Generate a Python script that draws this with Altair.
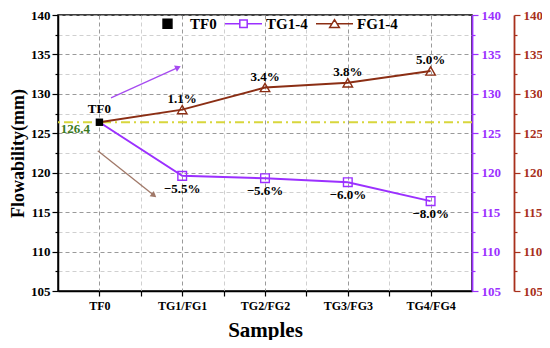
import altair as alt
import pandas as pd

# ---------------- data ----------------
samples = ["TF0", "TG1/FG1", "TG2/FG2", "TG3/FG3", "TG4/FG4"]
sample_index = [0, 1, 2, 3, 4]
tg_values = [126.4, 119.6, 119.3, 118.8, 116.4]
fg_values = [126.4, 128.0, 130.8, 131.4, 132.9]
tg_labels = ["", "−5.5%", "−5.6%", "−6.0%", "−8.0%"]
fg_labels = ["", "1.1%", "3.4%", "3.8%", "5.0%"]
tf0_value = 126.4
tf0_name = "TF0"
tf0_text = "126.4"
legend_names = ["TF0", "TG1-4", "FG1-4"]
y_ticks = [105, 107.5, 110, 112.5, 115, 117.5, 120, 122.5, 125, 127.5,
           130, 132.5, 135, 137.5, 140]
x_ticks = [0, 0.5, 1, 1.5, 2, 2.5, 3, 3.5, 4]
# annotation arrows (data units)
arrow_x = [0.14, -0.02]
arrow_y = [129.5, 122.8]
arrow_x2 = [0.94, 0.65]
arrow_y2 = [133.3, 117.2]
arrow_angle = [65, 129]
arrow_color = ["#A64BF0", "#A07868"]

# ---------------- styles ----------------
SERIF = "Liberation Serif"
PURPLE = "#9B30FF"
BROWN = "#8B2E14"
BROWN_AX = "#A8301C"
YELLOW = "#D8D63C"
GREEN = "#3A7A1E"

xscale = alt.Scale(domain=[-0.5, 4.5], nice=False, zero=False)
yscale = alt.Scale(domain=[105, 140], nice=False, zero=False)

major5 = "datum.value % 5 === 0"
major1 = "datum.value % 1 === 0"

x_label_expr = ("datum.value % 1 === 0 ? ["
                + ",".join("'" + s + "'" for s in samples)
                + "][datum.value] : ''")

x_axis = alt.Axis(
    values=x_ticks, title="Samples", titleFont=SERIF, titleFontSize=21,
    titleFontWeight="bold", titleColor="black", titlePadding=8,
    labelFont=SERIF, labelFontSize=12, labelFontWeight="bold", labelColor="black",
    labelExpr=x_label_expr, labelAngle=0, labelOverlap=False, labelPadding=4,
    tickColor="black", tickSize=5, tickWidth=1.2,
    domainColor="black", domainWidth=1.5,
    grid=True,
    gridColor={"condition": {"test": major1, "value": "#9a9a9a"}, "value": "#d0d0d0"},
    gridDash=[4, 3], gridWidth=1,
)

y_axis = alt.Axis(
    values=y_ticks, title="Flowability(mm)", titleFont=SERIF, titleFontSize=18,
    titleFontWeight="bold", titleColor="black", titlePadding=3,
    labelFont=SERIF, labelFontSize=13, labelFontWeight="bold", labelColor="black",
    labelExpr="datum.value % 5 === 0 ? datum.label : ''", labelOverlap=False,
    labelPadding=2, labelFlush=False,
    tickColor="black", tickWidth=1.2,
    tickSize={"condition": {"test": major5, "value": 6}, "value": 3},
    domainColor="black", domainWidth=1.5,
    grid=True,
    gridColor={"condition": {"test": major5, "value": "#9a9a9a"}, "value": "#d0d0d0"},
    gridDash=[4, 3], gridWidth=1,
)


def side_axis(color, offset):
    return alt.Axis(
        orient="right", offset=offset, values=y_ticks, title=None,
        labelFont=SERIF, labelFontSize=13, labelFontWeight="bold", labelColor=color,
        labelExpr="datum.value % 5 === 0 ? datum.label : ''", labelOverlap=False,
        labelPadding=3, labelFlush=False,
        tickColor=color, tickWidth=1.2,
        tickSize={"condition": {"test": major5, "value": 6}, "value": 3},
        domainColor=color, domainWidth=1.8, grid=False,
    )


def X(field):
    return alt.X(field, scale=xscale, axis=x_axis)


def Y(field):
    return alt.Y(field, scale=yscale, axis=y_axis)


df_tg = pd.DataFrame({"idx": sample_index, "value": tg_values, "label": tg_labels})
df_fg = pd.DataFrame({"idx": sample_index, "value": fg_values, "label": fg_labels})
df_tf0 = pd.DataFrame({"idx": [0], "value": [tf0_value], "name": [tf0_name], "txt": [tf0_text]})
df_ref = pd.DataFrame({"v": [tf0_value]})
df_arrow = pd.DataFrame({"x": arrow_x, "y": arrow_y, "x2": arrow_x2, "y2": arrow_y2,
                         "a": arrow_angle, "c": arrow_color})
df_leg = pd.DataFrame({"series": legend_names, "idx": [0, 0, 0], "value": [tf0_value] * 3})

ref_rule = alt.Chart(df_ref).mark_rule(color=YELLOW, strokeWidth=2.2, strokeDash=[9, 4, 2, 4]).encode(
    y=Y("v:Q")
)

tg_line = alt.Chart(df_tg).mark_line(color=PURPLE, strokeWidth=2).encode(x=X("idx:Q"), y=Y("value:Q"))
fg_line = alt.Chart(df_fg).mark_line(color=BROWN, strokeWidth=2).encode(x=X("idx:Q"), y=Y("value:Q"))

tg_pts = alt.Chart(df_tg).transform_filter("datum.idx > 0").mark_point(
    shape="square", size=75, filled=False, color=PURPLE, strokeWidth=1.4, opacity=1
).encode(x=X("idx:Q"), y=Y("value:Q"))
fg_pts = alt.Chart(df_fg).transform_filter("datum.idx > 0").mark_point(
    shape="triangle-up", size=90, filled=False, color=BROWN, strokeWidth=1.4, opacity=1
).encode(x=X("idx:Q"), y=Y("value:Q"))

tg_txt = alt.Chart(df_tg).mark_text(font=SERIF, fontSize=13, fontWeight="bold", color="black", dy=13).encode(
    x=X("idx:Q"), y=Y("value:Q"), text="label:N")
fg_txt = alt.Chart(df_fg).mark_text(font=SERIF, fontSize=13, fontWeight="bold", color="black", dy=-11).encode(
    x=X("idx:Q"), y=Y("value:Q"), text="label:N")

tf0_pt = alt.Chart(df_tf0).mark_point(shape="square", size=55, filled=True, color="black", opacity=1).encode(
    x=X("idx:Q"), y=Y("value:Q"))
tf0_name_txt = alt.Chart(df_tf0).mark_text(font=SERIF, fontSize=13, fontWeight="bold", color="black", dy=-13).encode(
    x=X("idx:Q"), y=Y("value:Q"), text="name:N")
tf0_val_txt = alt.Chart(df_tf0).mark_text(font=SERIF, fontSize=13, fontWeight="bold", color=GREEN, dx=-24, dy=7).encode(
    x=X("idx:Q"), y=Y("value:Q"), text="txt:N")

arrow_line = alt.Chart(df_arrow).mark_rule(strokeWidth=1.3).encode(
    x=X("x:Q"), y=Y("y:Q"), x2="x2:Q", y2="y2:Q", color=alt.Color("c:N", scale=None))
arrow_head = alt.Chart(df_arrow).mark_point(shape="triangle", filled=True, size=45, opacity=1).encode(
    x=X("x2:Q"), y=Y("y2:Q"), angle=alt.Angle("a:Q", scale=None), color=alt.Color("c:N", scale=None))

# legend (custom line+marker symbols)
leg_paths = [
    "M-0.24,-0.24H0.24V0.24H-0.24Z",
    "M-1,0H-0.2M0.2,0H1M-0.2,-0.2H0.2V0.2H-0.2Z",
    "M-1,0H-0.136M0.136,0H1M0,-0.22L0.26,0.2H-0.26Z",
]
leg = alt.Legend(
    title=None, orient="none", legendX=90, legendY=-11, direction="horizontal",
    labelFont=SERIF, labelFontSize=15, labelFontWeight="bold", labelColor="black",
    symbolSize=1369, symbolStrokeWidth=1.5, symbolOpacity=1, columnPadding=5,
    labelOffset=3,
)
legend_layer = alt.Chart(df_leg).mark_point(opacity=0).encode(
    x=X("idx:Q"), y=Y("value:Q"),
    shape=alt.Shape("series:N", scale=alt.Scale(domain=legend_names, range=leg_paths), legend=leg),
    stroke=alt.Stroke("series:N", scale=alt.Scale(domain=legend_names, range=["black", PURPLE, BROWN]), legend=leg),
    fill=alt.Fill("series:N", scale=alt.Scale(domain=legend_names, range=["black", "transparent", "transparent"]), legend=leg),
)

main = alt.layer(
    ref_rule, arrow_line, arrow_head, fg_line, tg_line, tg_pts, fg_pts,
    tf0_pt, tg_txt, fg_txt, tf0_name_txt, tf0_val_txt, legend_layer,
)

df_axis = pd.DataFrame({"v": [105, 140]})
purple_layer = alt.Chart(df_axis).mark_point(opacity=0).encode(
    y=alt.Y("v:Q", scale=yscale, axis=side_axis(PURPLE, 0)))
brown_layer = alt.Chart(df_axis).mark_point(opacity=0).encode(
    y=alt.Y("v:Q", scale=yscale, axis=side_axis(BROWN_AX, 42)))

chart = alt.layer(main, purple_layer, brown_layer).resolve_scale(y="independent").properties(
    width=414, height=276,
    autosize=alt.AutoSizeParams(type="none"),
    padding={"left": 50, "top": 7, "right": 70, "bottom": 49},
).configure_view(stroke="black", strokeWidth=1.5)

chart.save("out.html", embed_options={"renderer": "svg", "actions": False})
